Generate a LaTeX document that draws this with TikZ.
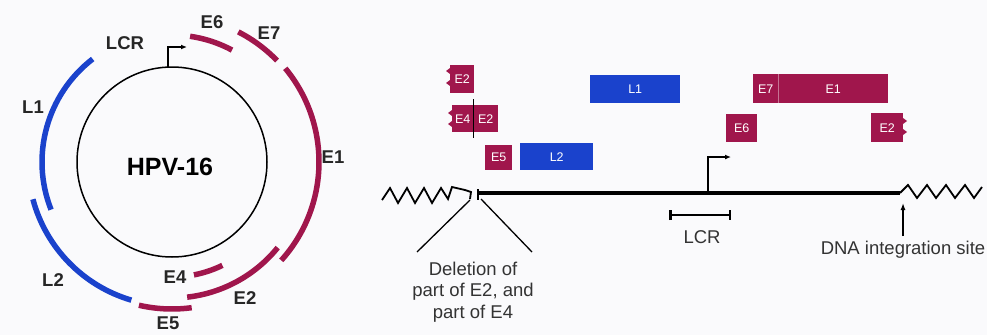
\documentclass[tikz,border=0pt]{standalone}
\usepackage{fontspec}
\setmainfont{Liberation Sans}
\usetikzlibrary{arrows.meta,calc}
\definecolor{crim}{RGB}{160,22,76}
\definecolor{blu}{RGB}{26,66,204}
\definecolor{bgc}{RGB}{250,250,252}
\newcommand\lblfont{\fontsize{18.5}{18.5}\selectfont\bfseries}
\newcommand\boxfont{\fontsize{12.5}{12.5}\selectfont}
\newcommand\txtfont{\fontsize{18.5}{21.5}\selectfont}
\tikzset{
  arcred/.style={crim, line width=5.5pt},
  arcblue/.style={blu, line width=5.5pt},
  clabel/.style={font=\lblfont, text=black!85, inner sep=0pt},
  genebox/.style={fill=#1, text=white, font=\boxfont, inner sep=0pt, anchor=north west},
  dna/.style={black, line width=3.5pt},
  thin/.style={black, line width=1.3pt},
  prom/.style={black, line width=1.3pt, -{Latex[length=6pt,width=5pt]}},
  rtext/.style={font=\txtfont, text=black!80, inner sep=0pt, align=center}
}
\begin{document}
\begin{tikzpicture}[x=1pt,y=-1pt]
\fill[bgc] (0,0) rectangle (987,335);
\useasboundingbox (0,0) rectangle (987,335);

% ---------------- circular genome ----------------
\node[circle, draw, line width=1.5pt, minimum size=190pt, inner sep=0pt] (hpv) at (172,162) {};
\node[font=\fontsize{25}{25}\selectfont\bfseries, inner sep=0pt] (hpvtxt) at (170,167) {HPV-16};
\coordinate (c) at (172,162);

\draw[arcblue] (c) ++(-127.6:130) arc[start angle=-127.6, end angle=-201.5, radius=130];
\draw[arcblue] (c) ++(-195:144) arc[start angle=-195, end angle=-253.6, radius=144];
\draw[arcred] (c) ++(-257:147) arc[start angle=-257, end angle=-277.7, radius=147];
\draw[arcred] (c) ++(-276.4:136) arc[start angle=-276.4, end angle=-321, radius=136];
\draw[arcred] (c) ++(-281:115) arc[start angle=-281, end angle=-296, radius=115];
\draw[arcred] (c) ++(-39.6:147) arc[start angle=-39.6, end angle=42, radius=147];
\draw[arcred] (c) ++(-44:146) arc[start angle=-44, end angle=-63, radius=146];
\draw[arcred] (c) ++(-61.8:127) arc[start angle=-61.8, end angle=-81.8, radius=127];

\coordinate (cp0) at (168,68);
\coordinate (cp1) at (187,47);
\draw[prom] (cp0) |- (cp1);

\node[clabel] (lLCR) at (125,43) {LCR};
\node[clabel] (lL1) at (33,107) {L1};
\node[clabel] (lL2) at (53,280) {L2};
\node[clabel] (lE6) at (212,22) {E6};
\node[clabel] (lE7) at (269,33) {E7};
\node[clabel] (lE1) at (333,157) {E1};
\node[clabel] (lE4) at (175,277) {E4};
\node[clabel] (lE2) at (245,298) {E2};
\node[clabel] (lE5) at (168,323) {E5};

% ---------------- linear integrated genome ----------------
\coordinate (ls) at (478,193);
\coordinate (le) at (900,193);
\draw[dna] (ls) -- (le);
\draw[thin, line width=1.6pt] (478,189) -- (478,200);

% left zigzag with break
\draw[thin, line width=1.8pt, line join=miter]
  (382,200) -- (390,188) -- (398,203) -- (407,188) -- (415,203) -- (424,188)
  -- (432,203) -- (441,188) -- (448,199) -- (452,187) -- (465,190) -- (471,192) -- (470,199);
% right zigzag
\draw[thin, line width=1.8pt, line join=miter]
  (le) -- (908,185) -- (917,198) -- (927,185) -- (936,198) -- (946,185)
  -- (955,198) -- (965,185) -- (974,198) -- (982,187);

% deletion lines
\coordinate (d1a) at (470,200);
\coordinate (d1b) at (417,252);
\coordinate (d2a) at (481,199);
\coordinate (d2b) at (532,252);
\draw[thin] (d1a) -- (d1b);
\draw[thin] (d2a) -- (d2b);
\node[rtext] (deltxt) at (473,292) {Deletion of\\part of E2, and\\part of E4};

% promoter on line
\coordinate (lp0) at (708,193);
\coordinate (lp1) at (731,157);
\draw[prom] (lp0) |- (lp1);

% LCR bracket
\coordinate (b0) at (669,215);
\coordinate (b1) at (731,215);
\draw[thin, line width=2.5pt, {Bar[width=10pt]}-{Bar[width=10pt]}] (b0) -- (b1);
\node[rtext] (lcrtxt) at (702,237) {LCR};

% DNA integration site
\coordinate (ia) at (903,236);
\coordinate (ib) at (903,203);
\draw[thin, -{Latex[length=7pt,width=5pt]}] (ia) -- (ib);
\node[rtext] (dnatxt) at (903,250) {DNA integration site};

% ---------------- gene boxes ----------------
\node[genebox=crim, minimum width=24pt, minimum height=28pt] (bE2a) at (450,65) {E2};
\fill[crim] (450,68) -- (446,71) -- (450,74) -- cycle (450,80) -- (446,83) -- (450,86) -- cycle;
\node[genebox=crim, minimum width=21pt, minimum height=27pt] (bE4) at (452,105) {E4};
\fill[crim] (452,110) -- (448,113) -- (452,116) -- cycle (452,121) -- (448,124) -- (452,127) -- cycle;
\node[genebox=crim, minimum width=25pt, minimum height=27pt] (bE2b) at (473,105) {E2};
\coordinate (cut0) at (473,99);
\coordinate (cut1) at (473,138);
\draw[black, line width=1pt] (cut0) -- (cut1);
\node[genebox=crim, minimum width=27pt, minimum height=25pt] (bE5) at (485,145) {E5};
\node[genebox=blu, minimum width=73pt, minimum height=27pt] (bL2) at (520,143) {L2};
\node[genebox=blu, minimum width=90pt, minimum height=28pt] (bL1) at (590,75) {L1};
\node[genebox=crim, minimum width=25pt, minimum height=29pt] (bE7) at (753,74) {E7};
\node[genebox=crim, minimum width=110pt, minimum height=29pt] (bE1) at (778,74) {E1};
\draw[crim!60!white, line width=0.6pt] (bE7.north east) -- (bE7.south east);
\node[genebox=crim, minimum width=31pt, minimum height=28pt] (bE6) at (726,114) {E6};
\node[genebox=crim, minimum width=32pt, minimum height=29pt] (bE2c) at (871,113) {E2};
\fill[crim] (903,118) -- (907,121) -- (903,124) -- cycle (903,129) -- (907,132) -- (903,135) -- cycle;
\end{tikzpicture}
\end{document}
